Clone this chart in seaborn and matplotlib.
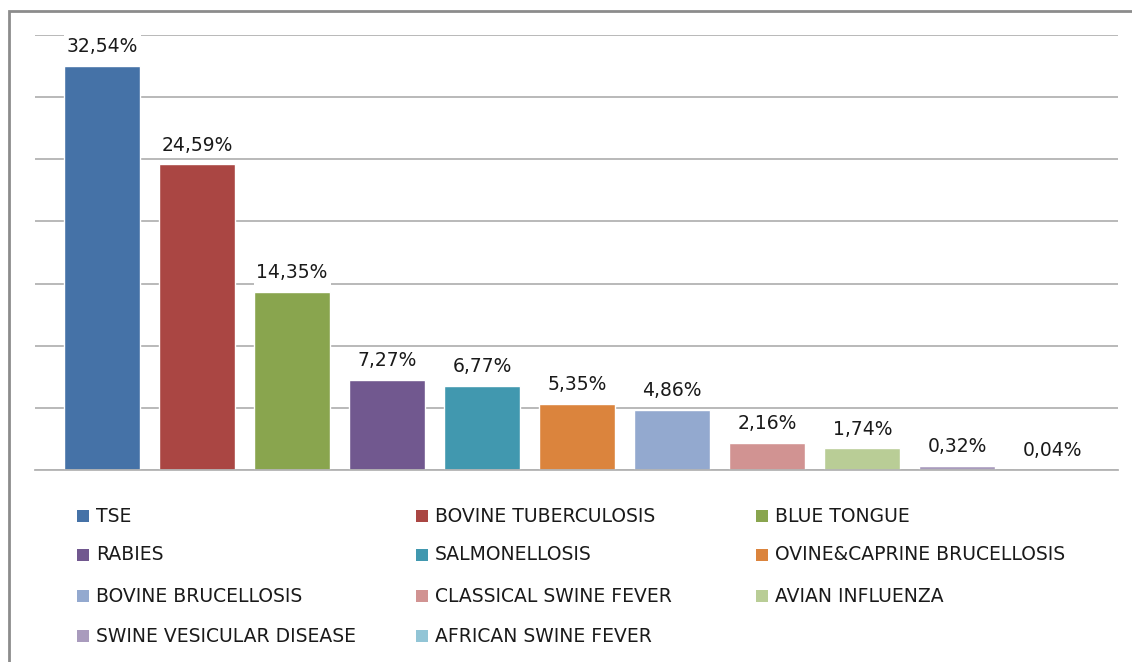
import matplotlib
matplotlib.use("Agg")
import matplotlib.pyplot as plt
import seaborn as sns
import pandas as pd
from matplotlib.patches import Rectangle

diseases = ["TSE", "BOVINE TUBERCULOSIS", "BLUE TONGUE", "RABIES", "SALMONELLOSIS",
            "OVINE&CAPRINE BRUCELLOSIS", "BOVINE BRUCELLOSIS", "CLASSICAL SWINE FEVER",
            "AVIAN INFLUENZA", "SWINE VESICULAR DISEASE", "AFRICAN SWINE FEVER"]
shares = [32.54, 24.59, 14.35, 7.27, 6.77, 5.35, 4.86, 2.16, 1.74, 0.32, 0.04]
colors = ["#4572A7", "#AA4643", "#89A54E", "#71588F", "#4198AF", "#DB843D",
          "#93A9CF", "#D19392", "#B9CD96", "#A99BBD", "#92C5D6"]

df = pd.DataFrame({"disease": diseases, "share": shares})

sns.set_theme(style="white")
plt.rcParams['font.family'] = ['DejaVu Sans']

FS = 13.5

fig = plt.figure(figsize=(11.32, 6.62), dpi=100)
ax = fig.add_axes([35/1132, 1-470/662, (1118-35)/1132, (470-35)/662])

sns.barplot(data=df, x="disease", y="share", hue="disease", palette=colors,
            dodge=False, legend=False, width=0.8, saturation=1, ax=ax)

ax.set_xlim(-0.705, 10.69)
ax.set_ylim(0, 35)
ax.set_yticks(range(0, 36, 5))
ax.yaxis.grid(True, color="#b3b3b3", linewidth=1.3)
ax.set_axisbelow(True)
ax.set_xticks([])
ax.set_yticklabels([])
ax.tick_params(left=False, bottom=False)
ax.set_xlabel("")
ax.set_ylabel("")
for s in ["top", "right", "left"]:
    ax.spines[s].set_visible(False)
ax.spines["bottom"].set_color("#b3b3b3")
ax.spines["bottom"].set_linewidth(1.3)

for i, v in enumerate(shares):
    ax.annotate(f"{v:.2f}%".replace(".", ","), (i, v), xytext=(0, 7),
                textcoords="offset points", ha="center", va="bottom",
                fontsize=FS, color="#1a1a1a", annotation_clip=False,
                bbox=dict(facecolor="white", edgecolor="none", pad=2))

# legend, row-major in 3 columns
col_x = [77, 416, 756]
row_y = [516, 555, 596, 636]
for i, (name, c) in enumerate(zip(diseases, colors)):
    r, k = divmod(i, 3)
    x0 = col_x[k]
    y0 = row_y[r]
    fig.patches.append(Rectangle((x0/1132, 1-(y0+6)/662), 12/1132, 12/662,
                                 transform=fig.transFigure, facecolor=c,
                                 edgecolor="none"))
    fig.text((x0+19)/1132, 1-y0/662, name, ha="left", va="center",
             fontsize=FS, color="#1a1a1a")

# outer frame
fig.patches.append(Rectangle((9/1132, -0.05), 1.2, 1-11/662+0.05,
                             transform=fig.transFigure, fill=False,
                             edgecolor="#8c8c8c", linewidth=2, clip_on=False))

fig.savefig("out.png", dpi=100)
